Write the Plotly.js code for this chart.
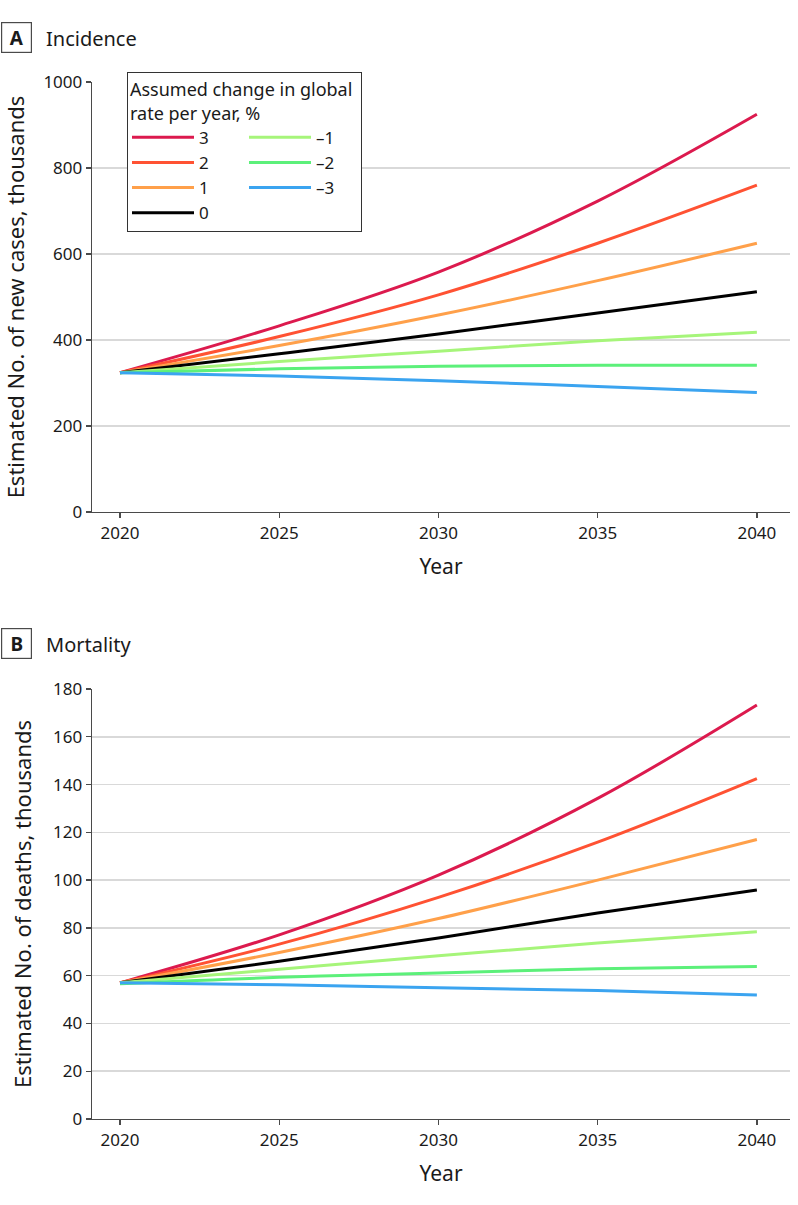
<!DOCTYPE html>
<html>
<head>
<meta charset="utf-8">
<script src="https://cdn.plot.ly/plotly-3.0.1.min.js"></script>
<style>
html,body{margin:0;padding:0;background:#fff;}
#chart{width:798px;height:1205px;}
</style>
</head>
<body>
<div id="chart"></div>
<script>
// ---- data ----
const years = [2020, 2025, 2030, 2035, 2040];
const seriesNames = ['3', '2', '1', '0', '\u20131', '\u20132', '\u20133'];
const seriesColors = ['#DC1A4E', '#FF5233', '#FFA04A', '#000000', '#A6F57A', '#5CF07A', '#3BA4F0'];
const legendGroups = ['pos', 'pos', 'pos', 'pos', 'neg', 'neg', 'neg'];

// Panel A: incidence, thousands of new cases
const incP3 = [324, 433, 558, 723, 925];
const incP2 = [324, 408, 505, 625, 760];
const incP1 = [324, 387, 458, 538, 625];
const incZero = [324, 368, 414, 463, 512];
const incM1 = [324, 350, 374, 398, 418];
const incM2 = [324, 333, 339, 341, 341];
const incM3 = [324, 316, 305, 292, 278];

// Panel B: mortality, thousands of deaths
const morP3 = [57, 77.1, 102.1, 134.2, 173.3];
const morP2 = [57, 73.2, 92.8, 115.9, 142.5];
const morP1 = [57, 69.7, 83.9, 100.0, 117.0];
const morZero = [57, 66.0, 75.8, 86.2, 95.9];
const morM1 = [57, 62.7, 68.3, 73.7, 78.4];
const morM2 = [56.6, 59.3, 61.1, 62.9, 63.8];
const morM3 = [57, 56.2, 54.9, 53.8, 51.9];

const yTicksA = [0, 200, 400, 600, 800, 1000];
const yTicksB = [0, 20, 40, 60, 80, 100, 120, 140, 160, 180];
const xTicks = [2020, 2025, 2030, 2035, 2040];

// ---- build ----
const W = 798, H = 1205;
const FONT = '"Noto Sans", "DejaVu Sans", sans-serif';
const TXT = '#1a1a1a';
const incSeries = [incP3, incP2, incP1, incZero, incM1, incM2, incM3];
const morSeries = [morP3, morP2, morP1, morZero, morM1, morM2, morM3];

const traces = [];
incSeries.forEach((ys, i) => {
  traces.push({
    x: years, y: ys, xaxis: 'x', yaxis: 'y', type: 'scatter', mode: 'lines',
    name: seriesNames[i], legendgroup: legendGroups[i], legendrank: i + 1, showlegend: true,
    line: {color: seriesColors[i], width: 3, shape: 'spline', smoothing: 1},
    hoverinfo: 'skip'
  });
});
morSeries.forEach((ys, i) => {
  traces.push({
    x: years, y: ys, xaxis: 'x2', yaxis: 'y2', type: 'scatter', mode: 'lines',
    name: seriesNames[i], legendgroup: legendGroups[i], showlegend: false,
    line: {color: seriesColors[i], width: 3, shape: 'spline', smoothing: 1},
    hoverinfo: 'skip'
  });
});

const px = v => v / W;
const py = v => 1 - v / H;

const axisCommon = {
  showline: true, linecolor: '#4a4a4a', linewidth: 1.3,
  ticks: 'outside', ticklen: 5, tickwidth: 1.3, tickcolor: '#4a4a4a',
  tickfont: {family: FONT, size: 17, color: TXT},
  automargin: false, zeroline: false, fixedrange: true
};

const xAxis = (anchor) => Object.assign({}, axisCommon, {
  domain: [px(92), px(790)], anchor: anchor,
  range: [2019.12, 2041.04], tickvals: xTicks, showgrid: false,
  title: {text: 'Year', font: {family: FONT, size: 21, color: TXT}, standoff: 16}
});

const layout = {
  width: W, height: H,
  margin: {l: 0, r: 0, t: 0, b: 0, autoexpand: false},
  paper_bgcolor: '#ffffff', plot_bgcolor: '#ffffff',
  font: {family: FONT, size: 17, color: TXT},
  showlegend: true,
  xaxis: xAxis('y'),
  xaxis2: xAxis('y2'),
  yaxis: Object.assign({}, axisCommon, {
    domain: [py(512), py(82)], anchor: 'x', range: [0, 1000], tickvals: yTicksA,
    showgrid: true, gridcolor: '#d9d9d9', gridwidth: 1.5,
    title: {text: 'Estimated No. of new cases, thousands', font: {family: FONT, size: 22, color: TXT}, standoff: 15}
  }),
  yaxis2: Object.assign({}, axisCommon, {
    domain: [py(1119), py(689)], anchor: 'x2', range: [0, 180], tickvals: yTicksB,
    showgrid: true, gridcolor: '#d9d9d9', gridwidth: 1.5,
    title: {text: 'Estimated No. of deaths, thousands', font: {family: FONT, size: 22, color: TXT}, standoff: 15}
  }),
  legend: {
    x: px(127), y: py(72), xanchor: 'left', yanchor: 'top',
    orientation: 'h', entrywidth: 40, entrywidthmode: 'pixels',
    itemwidth: 62, tracegroupgap: 0, traceorder: 'grouped',
    bgcolor: '#ffffff', bordercolor: '#333333', borderwidth: 1,
    font: {family: FONT, size: 17, color: TXT},
    title: {text: 'Assumed change in global<br>rate per year, %', side: 'top', font: {family: FONT, size: 18, color: TXT}}
  },
  annotations: [
    {xref: 'paper', yref: 'paper', x: px(16), y: py(37.5), xanchor: 'center', yanchor: 'middle',
     text: '<b>A</b>', showarrow: false, font: {family: FONT, size: 19, color: TXT},
     bordercolor: '#4a4a4a', borderwidth: 1.2, borderpad: 0, width: 29, height: 29},
    {xref: 'paper', yref: 'paper', x: px(44), y: py(38), xanchor: 'left', yanchor: 'middle',
     text: 'Incidence', showarrow: false, font: {family: FONT, size: 20, color: TXT}},
    {xref: 'paper', yref: 'paper', x: px(16), y: py(643.5), xanchor: 'center', yanchor: 'middle',
     text: '<b>B</b>', showarrow: false, font: {family: FONT, size: 19, color: TXT},
     bordercolor: '#4a4a4a', borderwidth: 1.2, borderpad: 0, width: 29, height: 29},
    {xref: 'paper', yref: 'paper', x: px(44), y: py(644), xanchor: 'left', yanchor: 'middle',
     text: 'Mortality', showarrow: false, font: {family: FONT, size: 20, color: TXT}}
  ]
};

Plotly.newPlot('chart', traces, layout, {displayModeBar: false, staticPlot: true});
</script>
</body>
</html>
